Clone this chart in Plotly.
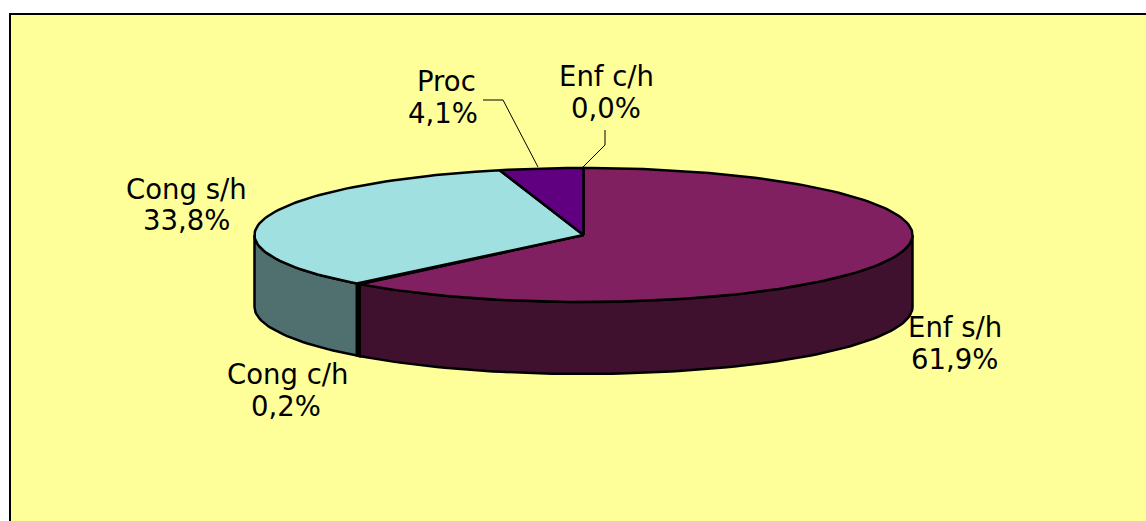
import math
import plotly.graph_objects as go

# Data
categories = ["Enf s/h", "Cong c/h", "Cong s/h", "Proc", "Enf c/h"]
values = [61.9, 0.2, 33.8, 4.1, 0.0]

# Styles and layout
top_colors = ["#802060", "#202020", "#A0E0E0", "#600080", "#808080"]
side_colors = ["#40102F", "#000000", "#507070", "#300040", "#404040"]
name_pos = [(955, 327), (287, 374), (186.5, 189), (446, 81), (606, 76)]
value_pos = [(954, 359), (286, 406), (186, 220), (443, 113), (606, 108)]
CX, CY, RX, RY, DEPTH = 583.5, 235, 329, 67, 72
FONT = dict(family="DejaVu Sans, Liberation Sans, sans-serif", size=27.5, color="#000000")


def point(deg, dy=0.0):
    a = math.radians(deg)
    return CX + RX * math.sin(a), CY - RY * math.cos(a) + dy


def arc(a0, a1, dy=0.0):
    n = max(2, int(abs(a1 - a0) / 1.5) + 2)
    return [point(a0 + (a1 - a0) * i / (n - 1), dy) for i in range(n)]


def polygon(pts, fill):
    xs = [p[0] for p in pts] + [pts[0][0]]
    ys = [p[1] for p in pts] + [pts[0][1]]
    return go.Scatter(x=xs, y=ys, mode="lines", fill="toself", fillcolor=fill,
                      line=dict(color="#000000", width=2.5), hoverinfo="skip",
                      showlegend=False)


spans = []
start = 0.0
total = sum(values)
for v in values:
    end = start + v / total * 360
    spans.append((start, end))
    start = end

fig = go.Figure()

# Outer walls (only the front half of the rim is visible)
for (a0, a1), col in zip(spans, side_colors):
    lo, hi = max(a0, 90), min(a1, 270)
    if hi > lo:
        fig.add_trace(polygon(arc(lo, hi) + arc(hi, lo, DEPTH), col))

# Top face
for (a0, a1), col in zip(spans, top_colors):
    if a1 > a0:
        fig.add_trace(polygon([(CX, CY)] + arc(a0, a1), col))

shapes = [
    dict(type="rect", xref="x", yref="y", x0=10, y0=14, x1=1170, y1=545,
         line=dict(color="#000000", width=2), fillcolor="#FFFF99", layer="below"),
    dict(type="path", xref="x", yref="y", path="M483,100 L503,100 L538,167",
         line=dict(color="#000000", width=1)),
    dict(type="path", xref="x", yref="y", path="M605,130 L605,145 L583,167",
         line=dict(color="#000000", width=1)),
]

annotations = []
for name, v, np_, vp in zip(categories, values, name_pos, value_pos):
    annotations.append(dict(x=np_[0], y=np_[1], text=name, showarrow=False,
                            xref="x", yref="y", font=FONT))
    annotations.append(dict(x=vp[0], y=vp[1], text=f"{v:.1f}%".replace(".", ","),
                            showarrow=False, xref="x", yref="y", font=FONT))

fig.update_layout(
    width=1146, height=521, autosize=False,
    margin=dict(l=0, r=0, t=0, b=0),
    paper_bgcolor="#FFFFFF", plot_bgcolor="#FFFFFF",
    xaxis=dict(range=[0, 1146], visible=False, fixedrange=True),
    yaxis=dict(range=[521, 0], visible=False, fixedrange=True),
    shapes=shapes, annotations=annotations, showlegend=False,
)

fig.write_html("out.html", config=dict(displayModeBar=False),
               post_script="document.body.style.margin='0';document.body.style.overflow='hidden';")
